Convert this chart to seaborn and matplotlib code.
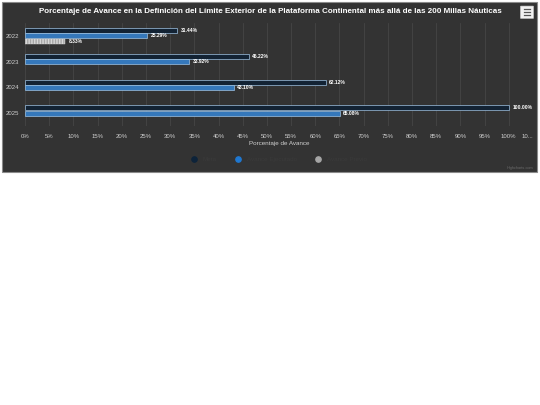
import pandas as pd
import matplotlib
matplotlib.use("Agg")
import matplotlib.pyplot as plt
import seaborn as sns
from matplotlib.patches import Rectangle, FancyBboxPatch
from matplotlib.lines import Line2D

years = ["2022", "2023", "2024", "2025"]
meta = [31.44, 46.22, 62.12, 100.00]
avance = [25.29, 33.92, 43.10, 65.08]
previo_years = ["2022"]
previo = [8.33]
series = ["Meta", "Avance Ejecutado", "Avance Previo"]
colors = ["#0d233a", "#1f78d1", "#a6a6a6"]
ticks = [0, 5, 10, 15, 20, 25, 30, 35, 40, 45, 50, 55, 60, 65, 70, 75, 80, 85, 90, 95, 100, 105]
tick_labels = ["0%", "5%", "10%", "15%", "20%", "25%", "30%", "35%", "40%", "45%", "50%",
               "55%", "60%", "65%", "70%", "75%", "80%", "85%", "90%", "95%", "100%", "10..."]

df = pd.concat([
    pd.DataFrame({"year": years, "valor": meta, "serie": series[0]}),
    pd.DataFrame({"year": years, "valor": avance, "serie": series[1]}),
    pd.DataFrame({"year": previo_years, "valor": previo, "serie": series[2]}),
])

bg = "#333333"
txt = "#d0d0d0"
plt.rcParams["font.family"] = ["Liberation Sans", "DejaVu Sans"]

fig = plt.figure(figsize=(5.4, 4.05), dpi=100)
fig.patch.set_facecolor("white")
fig.patches.append(Rectangle((0.0037, 0.5753), 0.9907, 0.4198, transform=fig.transFigure,
                             facecolor=bg, edgecolor="#8a8a8a", linewidth=0.8, zorder=-5))

ax = fig.add_axes([0.0463, 0.689, 0.9407, 0.254])
ax.set_facecolor(bg)
ax.patch.set_alpha(0)

sns.barplot(data=df, y="year", x="valor", hue="serie", order=years, hue_order=series,
            palette=colors, orient="h", width=0.62, gap=0.05, edgecolor="#9fc3e3",
            linewidth=0.5, legend=False, ax=ax, zorder=3)

for cont, s in zip(ax.containers, series):
    for bar in cont:
        if s == series[2]:
            bar.set_hatch("||||||")
            bar.set_edgecolor("#d8d8d8")
            bar.set_linewidth(0.3)
    ax.bar_label(cont, fmt="%.2f%%", padding=2.5, color="white", fontsize=3.6,
                 fontweight="bold")

ax.set_xlim(0, 105)
ax.set_xticks(ticks)
ax.set_xticklabels(tick_labels, color=txt, fontsize=4.3)
ax.get_xticklabels()[-1].set_horizontalalignment("right")
ax.tick_params(axis="y", colors=txt, labelsize=4.3, length=0, pad=4)
ax.tick_params(axis="x", length=0, pad=6)
ax.grid(axis="x", color="#454545", linewidth=0.6, zorder=0)
ax.set_axisbelow(True)
for sp in ax.spines.values():
    sp.set_visible(False)
ax.set_ylabel("")
ax.set_xlabel("Porcentaje de Avance", color=txt, fontsize=4.5, labelpad=1.5)

fig.text(0.5, 0.972, "Porcentaje de Avance en la Definición del Límite Exterior de la Plataforma "
         "Continental más allá de las 200 Millas Náuticas", ha="center", va="center",
         color="white", fontsize=5.75, fontweight="bold")

# export menu button
fig.patches.append(FancyBboxPatch((0.9648, 0.9555), 0.0222, 0.0285, transform=fig.transFigure,
                                  boxstyle="round,pad=0.001", facecolor="#f2f2f2",
                                  edgecolor="#cccccc", linewidth=0.4, zorder=5))
for yy in (0.963, 0.9698, 0.9766):
    fig.lines.append(Line2D([0.9695, 0.9822], [yy, yy], transform=fig.transFigure,
                            color="#555555", linewidth=0.9, zorder=6))

handles = [Line2D([], [], marker="o", linestyle="", markersize=3.8, color=c) for c in colors]
leg = fig.legend(handles, series, loc="center", bbox_to_anchor=(0.514, 0.607), ncol=3,
                 frameon=False, fontsize=4.5, handletextpad=0.4, columnspacing=2.4)
for t in leg.get_texts():
    t.set_color("#3a3a3a")

fig.text(0.988, 0.585, "Highcharts.com", ha="right", va="center", color="#6a6a6a", fontsize=2.8)

fig.savefig("out.png", dpi=100)
